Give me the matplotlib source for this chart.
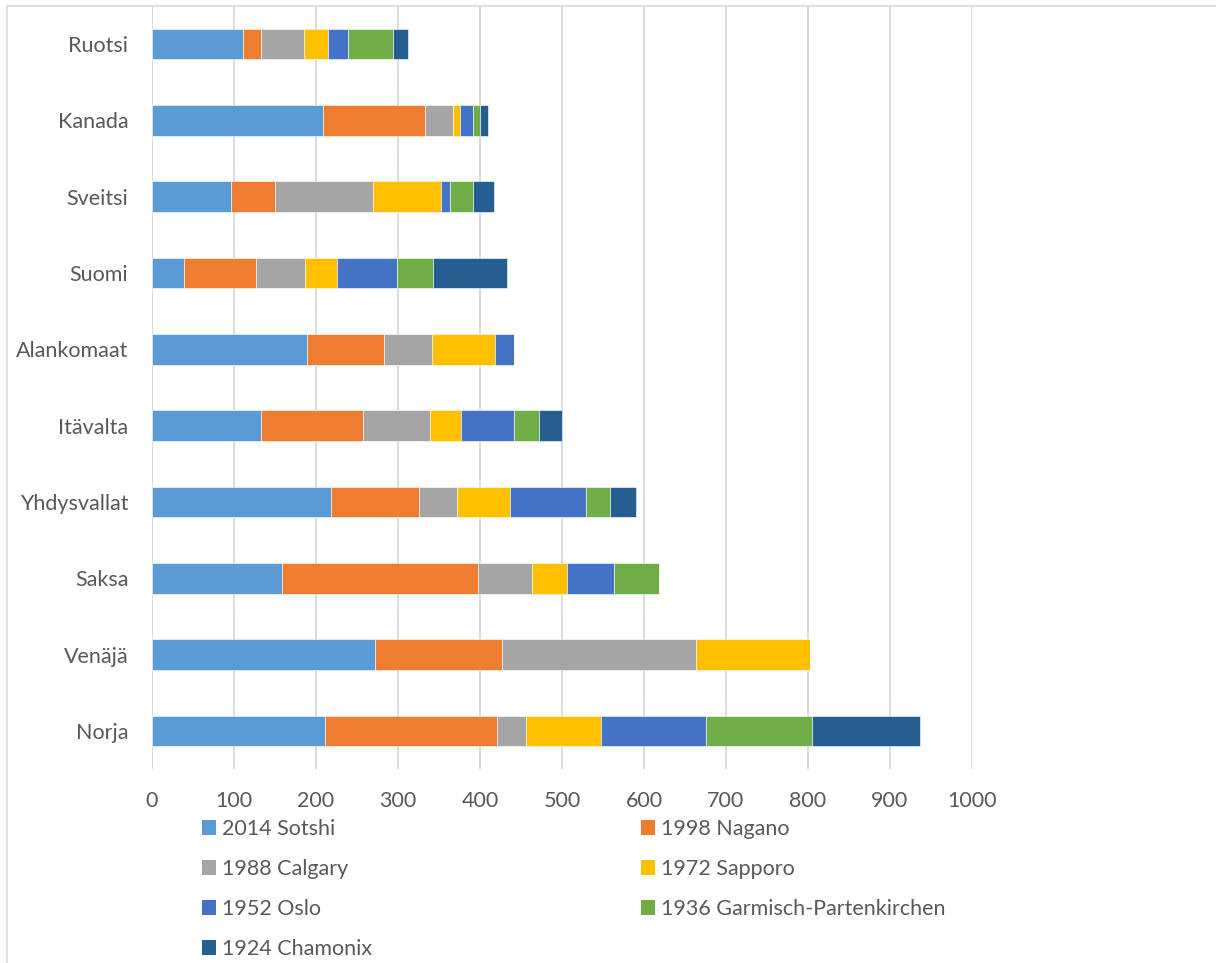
import matplotlib.pyplot as plt
import numpy as np
from matplotlib.lines import Line2D
from matplotlib.patches import Patch

# categories bottom -> top
countries = ["Norja", "Venäjä", "Saksa", "Yhdysvallat", "Itävalta",
             "Alankomaat", "Suomi", "Sveitsi", "Kanada", "Ruotsi"]

series_names = ["2014 Sotshi", "1998 Nagano", "1988 Calgary", "1972 Sapporo",
                "1952 Oslo", "1936 Garmisch-Partenkirchen", "1924 Chamonix"]

sotshi = [211, 272, 158, 218, 133, 189, 39, 96, 209, 111]
nagano = [210, 155, 240, 108, 124, 94, 88, 54, 124, 22]
calgary = [35, 237, 65, 46, 82, 59, 60, 120, 34, 52]
sapporo = [91, 138, 43, 64, 38, 76, 38, 82, 9, 30]
oslo = [129, 0, 58, 93, 64, 24, 74, 12, 16, 24]
garmisch = [129, 0, 54, 29, 31, 0, 44, 27, 8, 55]
chamonix = [132, 0, 0, 32, 28, 0, 90, 26, 10, 18]

colors = ["#5B9BD5", "#ED7D31", "#A5A5A5", "#FFC000",
          "#4472C4", "#70AD47", "#255E91"]

plt.rcParams["font.family"] = ["Lato", "DejaVu Sans"]
text_color = "#595959"
fs = 15.5

W, H = 1216, 963
fig = plt.figure(figsize=(W / 100, H / 100), dpi=100)
ax = fig.add_axes([152 / W, 1 - 769 / H, (972 - 152) / W, (769 - 6) / H])

y = np.arange(len(countries))
left = np.zeros(len(countries))
handles = []
for name, vals, c in zip(series_names,
                         [sotshi, nagano, calgary, sapporo, oslo, garmisch, chamonix],
                         colors):
    vals = np.array(vals, dtype=float)
    ax.barh(y, vals, left=left, height=0.4, color=c,
            edgecolor="white", linewidth=0.4, zorder=3)
    left += vals
    handles.append(Patch(facecolor=c, edgecolor="none", label=name))

ax.set_xlim(0, 1000)
ax.set_ylim(-0.5, len(countries) - 0.5)
ax.set_xticks(np.arange(0, 1001, 100))
ax.set_yticks(y)
ax.set_yticklabels(countries)
ax.grid(axis="x", color="#D9D9D9", linewidth=1.3, zorder=0)
ax.tick_params(axis="both", length=0, labelsize=fs, colors=text_color)
ax.tick_params(axis="x", pad=16)
ax.tick_params(axis="y", pad=17)
for s in ax.spines.values():
    s.set_visible(False)

# legend in two columns, row-major like the original
col1 = [handles[i] for i in (0, 2, 4, 6)]
col2 = [handles[i] for i in (1, 3, 5)]
common = dict(frameon=False, fontsize=fs, labelcolor=text_color,
              handlelength=0.64, handleheight=0.64, handletextpad=0.3,
              labelspacing=0.93, borderaxespad=0, borderpad=0,
              loc="upper left")
fig.legend(handles=col1, bbox_to_anchor=(202 / W, 1 - 819 / H), **common)
fig.legend(handles=col2, bbox_to_anchor=(641 / W, 1 - 819 / H), **common)

# chart area border (left and top visible)
fig.add_artist(Line2D([7 / W, 7 / W], [0, 1 - 6 / H], color="#D9D9D9",
                      linewidth=1.2, transform=fig.transFigure))
fig.add_artist(Line2D([7 / W, 1], [1 - 6 / H, 1 - 6 / H], color="#D9D9D9",
                      linewidth=1.2, transform=fig.transFigure))

fig.savefig("out.png", dpi=100, facecolor="white")
